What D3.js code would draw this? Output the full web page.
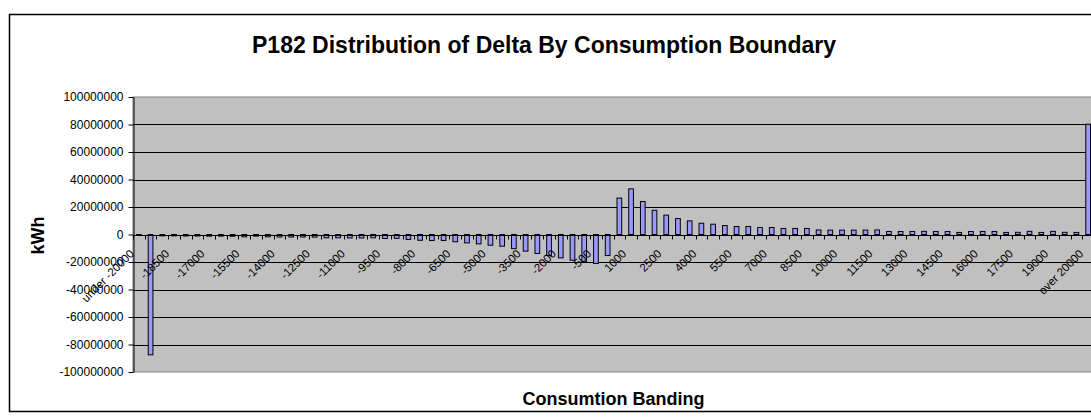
<!DOCTYPE html>
<html>
<head>
<meta charset="utf-8">
<script src="https://cdn.jsdelivr.net/npm/d3@7"></script>
<style>
  html, body { margin: 0; padding: 0; background: #fff; }
  svg { display: block; font-family: "Liberation Sans", Arial, sans-serif; }
</style>
</head>
<body>
<svg id="chart" width="1091" height="419"></svg>
<script>
// Consumption bands (kWh boundaries)
const categories = [
  "under -20000", "-19500", "-19000", "-18500", "-18000", "-17500", "-17000", "-16500",
  "-16000", "-15500", "-15000", "-14500", "-14000", "-13500", "-13000", "-12500",
  "-12000", "-11500", "-11000", "-10500", "-10000", "-9500", "-9000", "-8500",
  "-8000", "-7500", "-7000", "-6500", "-6000", "-5500", "-5000", "-4500",
  "-4000", "-3500", "-3000", "-2500", "-2000", "-1500", "-1000", "-500",
  "0", "500", "1000", "1500", "2000", "2500", "3000", "3500",
  "4000", "4500", "5000", "5500", "6000", "6500", "7000", "7500",
  "8000", "8500", "9000", "9500", "10000", "10500", "11000", "11500",
  "12000", "12500", "13000", "13500", "14000", "14500", "15000", "15500",
  "16000", "16500", "17000", "17500", "18000", "18500", "19000", "19500",
  "20000", "over 20000"
];

// Delta per band, kWh
const deltaKWh = [
  -500000, -87500000, -1000000, -1000000, -1100000, -1100000, -1200000, -1200000,
  -1300000, -1700000, -1200000, -1700000, -1800000, -1800000, -1800000, -1900000,
  -2400000, -2400000, -2500000, -2500000, -2400000, -2900000, -2800000, -3600000,
  -4200000, -4400000, -4400000, -5300000, -6100000, -6800000, -7800000, -8500000,
  -10300000, -12100000, -13800000, -15300000, -17000000, -18700000, -19900000, -21100000,
  -15300000, 26500000, 33200000, 24000000, 17600000, 14100000, 11600000, 9900000,
  8200000, 7500000, 6500000, 5800000, 5800000, 5100000, 5100000, 4400000,
  4400000, 4400000, 3300000, 3200000, 3200000, 3200000, 3200000, 3300000,
  2200000, 2200000, 2200000, 2300000, 2200000, 2200000, 1500000, 2200000,
  2200000, 2200000, 1500000, 1600000, 2300000, 1500000, 2300000, 1600000,
  1500000, 80200000
];

// Category labels that are printed along the axis
const xTickLabels = [
  "under -20000", "-18500", "-17000", "-15500", "-14000", "-12500", "-11000",
  "-9500", "-8000", "-6500", "-5000", "-3500", "-2000", "-500", "1000",
  "2500", "4000", "5500", "7000", "8500", "10000", "11500", "13000",
  "14500", "16000", "17500", "19000", "over 20000"
];

// Value axis ticks
const yTicks = [-100000000, -80000000, -60000000, -40000000, -20000000, 0,
  20000000, 40000000, 60000000, 80000000, 100000000];

const title = "P182 Distribution of Delta By Consumption Boundary";
const yTitle = "kWh";
const xTitle = "Consumtion Banding";

const svg = d3.select("#chart");
const plot = { left: 133, top: 97, right: 1094, bottom: 372 };

// chart area frame
svg.append("rect")
  .attr("x", 9.5).attr("y", 14.5)
  .attr("width", 1120).attr("height", 397)
  .attr("fill", "#fff").attr("stroke", "#000").attr("stroke-width", 1.5);

const x = d3.scaleBand().domain(categories)
  .range([plot.left, plot.right]).paddingInner(0.6).paddingOuter(0.3);
const xCell = d3.scaleBand().domain(categories)
  .range([plot.left, plot.right]).padding(0);
const y = d3.scaleLinear().domain([-100000000, 100000000])
  .range([plot.bottom, plot.top]);

// plot background
svg.append("rect")
  .attr("x", plot.left).attr("y", plot.top)
  .attr("width", plot.right - plot.left).attr("height", plot.bottom - plot.top)
  .attr("fill", "#c0c0c0").attr("stroke", "#808080").attr("stroke-width", 1);

// horizontal gridlines
svg.append("g")
  .selectAll("line")
  .data(yTicks.filter(d => d > -100000000 && d < 100000000))
  .join("line")
  .attr("x1", plot.left).attr("x2", plot.right)
  .attr("y1", d => Math.round(y(d)) + 0.5).attr("y2", d => Math.round(y(d)) + 0.5)
  .attr("stroke", "#000").attr("stroke-width", 1);

// bars
svg.append("g")
  .selectAll("rect")
  .data(categories.map((c, i) => ({ c, v: deltaKWh[i] })))
  .join("rect")
  .attr("x", d => x(d.c))
  .attr("width", x.bandwidth())
  .attr("y", d => y(Math.max(0, d.v)))
  .attr("height", d => Math.abs(y(d.v) - y(0)))
  .attr("fill", "#9999ff").attr("stroke", "#000").attr("stroke-width", 1);

// value axis
const yAxis = svg.append("g")
  .attr("transform", `translate(${plot.left + 0.5},0)`)
  .call(d3.axisLeft(y).tickValues(yTicks).tickSize(5).tickSizeOuter(0)
    .tickFormat(d => String(d)));
yAxis.select(".domain").attr("stroke", "#000");
yAxis.selectAll(".tick line").attr("stroke", "#000");
yAxis.selectAll("text")
  .attr("font-size", 12).attr("fill", "#000")
  .attr("font-family", '"Liberation Sans", Arial, sans-serif')
  .attr("x", -10);

// category axis along zero
const y0 = Math.round(y(0)) + 0.5;
svg.append("line")
  .attr("x1", plot.left).attr("x2", plot.right)
  .attr("y1", y0).attr("y2", y0)
  .attr("stroke", "#000");
const bounds = categories.map(c => xCell(c)).concat([plot.right]);
svg.append("g")
  .selectAll("line")
  .data(bounds)
  .join("line")
  .attr("x1", d => Math.round(d) + 0.5).attr("x2", d => Math.round(d) + 0.5)
  .attr("y1", y0).attr("y2", y0 + 4)
  .attr("stroke", "#000");

svg.append("g")
  .selectAll("text")
  .data(xTickLabels)
  .join("text")
  .attr("transform", d => {
    const cx = xCell(d) + xCell.bandwidth() / 2 - 4;
    return `translate(${cx},${y0 + 19}) rotate(-45)`;
  })
  .attr("text-anchor", "end")
  .attr("font-size", 11.5)
  .attr("fill", "#000")
  .text(d => d);

// titles
svg.append("text")
  .attr("x", 544).attr("y", 53)
  .attr("text-anchor", "middle")
  .attr("font-size", 23).attr("font-weight", "bold")
  .text(title);

svg.append("text")
  .attr("transform", `translate(44,${y0}) rotate(-90)`)
  .attr("text-anchor", "middle")
  .attr("font-size", 18).attr("font-weight", "bold")
  .text(yTitle);

svg.append("text")
  .attr("x", (plot.left + plot.right) / 2).attr("y", 405)
  .attr("text-anchor", "middle")
  .attr("font-size", 18).attr("font-weight", "bold")
  .text(xTitle);
</script>
</body>
</html>
